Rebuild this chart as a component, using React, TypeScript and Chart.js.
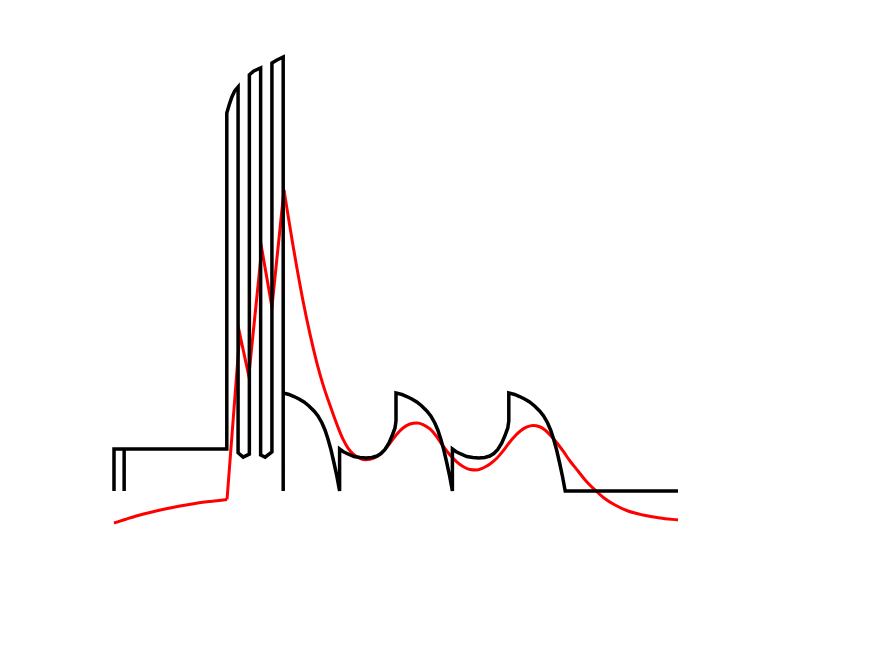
import React, { useEffect, useRef } from "react";
import { Chart, registerables } from "chart.js";

Chart.register(...registerables);

// Stimulus trace (black): time 0..100, amplitude units
const stimulusX = [
  0, 0, 1.8, 1.8, 1.8, 20, 20, 20.4, 20.9, 21.4, 22, 22, 22.9, 24, 24, 24.8, 26, 26, 26.8, 28, 28, 28.9, 30, 30, 30,
  31.03, 31.91, 32.8, 33.69, 34.57, 35.46, 36.17, 36.88, 37.41, 37.94, 38.48, 39.01, 39.54, 40,
  40, 40.6, 41.49, 42.55, 43.62, 44.68, 45.74, 46.63, 47.34, 48.05, 48.76, 49.29, 49.82, 50, 50,
  51.03, 51.91, 52.8, 53.69, 54.57, 55.46, 56.17, 56.88, 57.41, 57.94, 58.48, 59.01, 59.54, 60,
  60, 60.6, 61.49, 62.55, 63.62, 64.68, 65.74, 66.63, 67.34, 68.05, 68.76, 69.29, 69.82, 70, 70,
  71.03, 71.91, 72.8, 73.69, 74.57, 75.46, 76.17, 76.88, 77.41, 77.94, 78.48, 79.01, 79.54, 80, 100,
];
const stimulusY = [
  0, 9.7, 9.7, 0, 9.7, 9.7, 87.1, 88.9, 90.8, 92.2, 93.1, 8.8, 7.8, 8.5, 95.9, 96.8, 97.5, 8.3, 7.8, 9.0, 98.6, 99.3, 100, 0, 22.6,
  22.24, 21.77, 21.2, 20.51, 19.59, 18.43, 17.28, 15.67, 14.06, 11.98, 9.45, 6.45, 3.23, 0,
  9.68, 9.1, 8.53, 7.95, 7.72, 7.6, 7.72, 8.06, 8.64, 9.56, 11.06, 12.67, 14.52, 16.13, 22.6,
  22.24, 21.77, 21.2, 20.51, 19.59, 18.43, 17.28, 15.67, 14.06, 11.98, 9.45, 6.45, 3.23, 0,
  9.68, 9.1, 8.53, 7.95, 7.72, 7.6, 7.72, 8.06, 8.64, 9.56, 11.06, 12.67, 14.52, 16.13, 22.6,
  22.24, 21.77, 21.2, 20.51, 19.59, 18.43, 17.28, 15.67, 14.06, 11.98, 9.45, 6.45, 3.23, 0, 0,
];

// Response trace (red)
const responseX = [
  0, 1.95, 4.26, 6.38, 9.04, 11.7, 14.36, 17.02, 20.04,
  22.3, 23.9, 26.2, 28.0, 30.14,
  30.85, 31.74, 32.45, 33.51, 34.75, 35.99, 37.06, 37.94, 38.83, 39.72, 40.6, 41.49, 42.38, 43.26, 44.5,
  45.39, 46.63, 47.87, 48.94, 50.18, 51.24, 52.48, 53.72, 54.79, 56.03, 57.27, 58.33, 59.57, 60.82,
  61.88, 63.12, 64.36, 65.43, 66.67, 67.91, 68.97, 70.04, 71.1, 72.16, 73.23, 74.29, 75.35, 76.42,
  77.48, 78.55, 79.61, 80.85, 82.27, 83.69, 85.28, 86.88, 88.83, 91.13, 93.79, 96.81, 100,
];
const responseY = [
  -7.37, -6.57, -5.65, -4.95, -4.15, -3.46, -2.88, -2.42, -1.96,
  36.2, 26.5, 55.8, 42.4, 69.35,
  63.6, 56.57, 51.24, 43.82, 36.13, 29.43, 24.51, 21.08, 17.79, 14.67, 11.94, 9.89, 8.55, 7.76, 7.2,
  7.3, 7.95, 9.33, 11.06, 13.13, 14.52, 15.44, 15.67, 15.32, 14.29, 12.44, 10.37, 8.29, 6.68,
  5.65, 4.95, 4.84, 5.3, 6.22, 7.6, 9.22, 11.06, 12.67, 13.94, 14.75, 15.09, 14.86, 14.06,
  12.67, 11.06, 9.22, 6.91, 4.61, 2.3, 0.23, -1.61, -3.23, -4.61, -5.53, -6.22, -6.68,
];
const responseSpikeStart = 8; // index where the spiking part begins
const responsePeakIndex = 13; // last spike peak; smooth decay afterwards

const toPoints = (xs: number[], ys: number[]) => xs.map((x, i) => ({ x, y: ys[i] }));

export default function App() {
  const ref = useRef<HTMLCanvasElement | null>(null);

  useEffect(() => {
    if (!ref.current) return;
    const red = "#ff0000";
    const redLine = (label: string, from: number, to: number, smooth: boolean) => ({
      label,
      data: toPoints(responseX.slice(from, to + 1), responseY.slice(from, to + 1)),
      showLine: true,
      borderColor: red,
      backgroundColor: red,
      borderWidth: 3,
      pointRadius: 0,
      tension: 0,
      ...(smooth ? { cubicInterpolationMode: "monotone" } : {}),
      clip: false as any,
    });
    const chart = new Chart(ref.current, {
      type: "scatter",
      data: {
        datasets: [
          {
            label: "stimulus",
            data: toPoints(stimulusX, stimulusY),
            showLine: true,
            borderColor: "#000000",
            backgroundColor: "#000000",
            borderWidth: 3.5,
            pointRadius: 0,
            tension: 0,
            clip: false as any,
          },
          redLine("response baseline", 0, responseSpikeStart, true) as any,
          redLine("response spikes", responseSpikeStart, responsePeakIndex, false) as any,
          redLine("response decay", responsePeakIndex, responseX.length - 1, true) as any,
        ],
      },
      options: {
        responsive: false,
        animation: false,
        devicePixelRatio: 1,
        layout: { padding: { left: 114, right: 197, top: 57, bottom: 121.6 } },
        plugins: { legend: { display: false }, tooltip: { enabled: false } },
        scales: {
          x: { type: "linear", min: 0, max: 100, display: false },
          y: { type: "linear", min: -10, max: 100, display: false },
        },
      },
    });
    return () => chart.destroy();
  }, []);

  return (
    <div style={{ position: "fixed", left: 0, top: 0, width: 875, height: 656, background: "#ffffff" }}>
      <canvas ref={ref} width={875} height={656} />
    </div>
  );
}
